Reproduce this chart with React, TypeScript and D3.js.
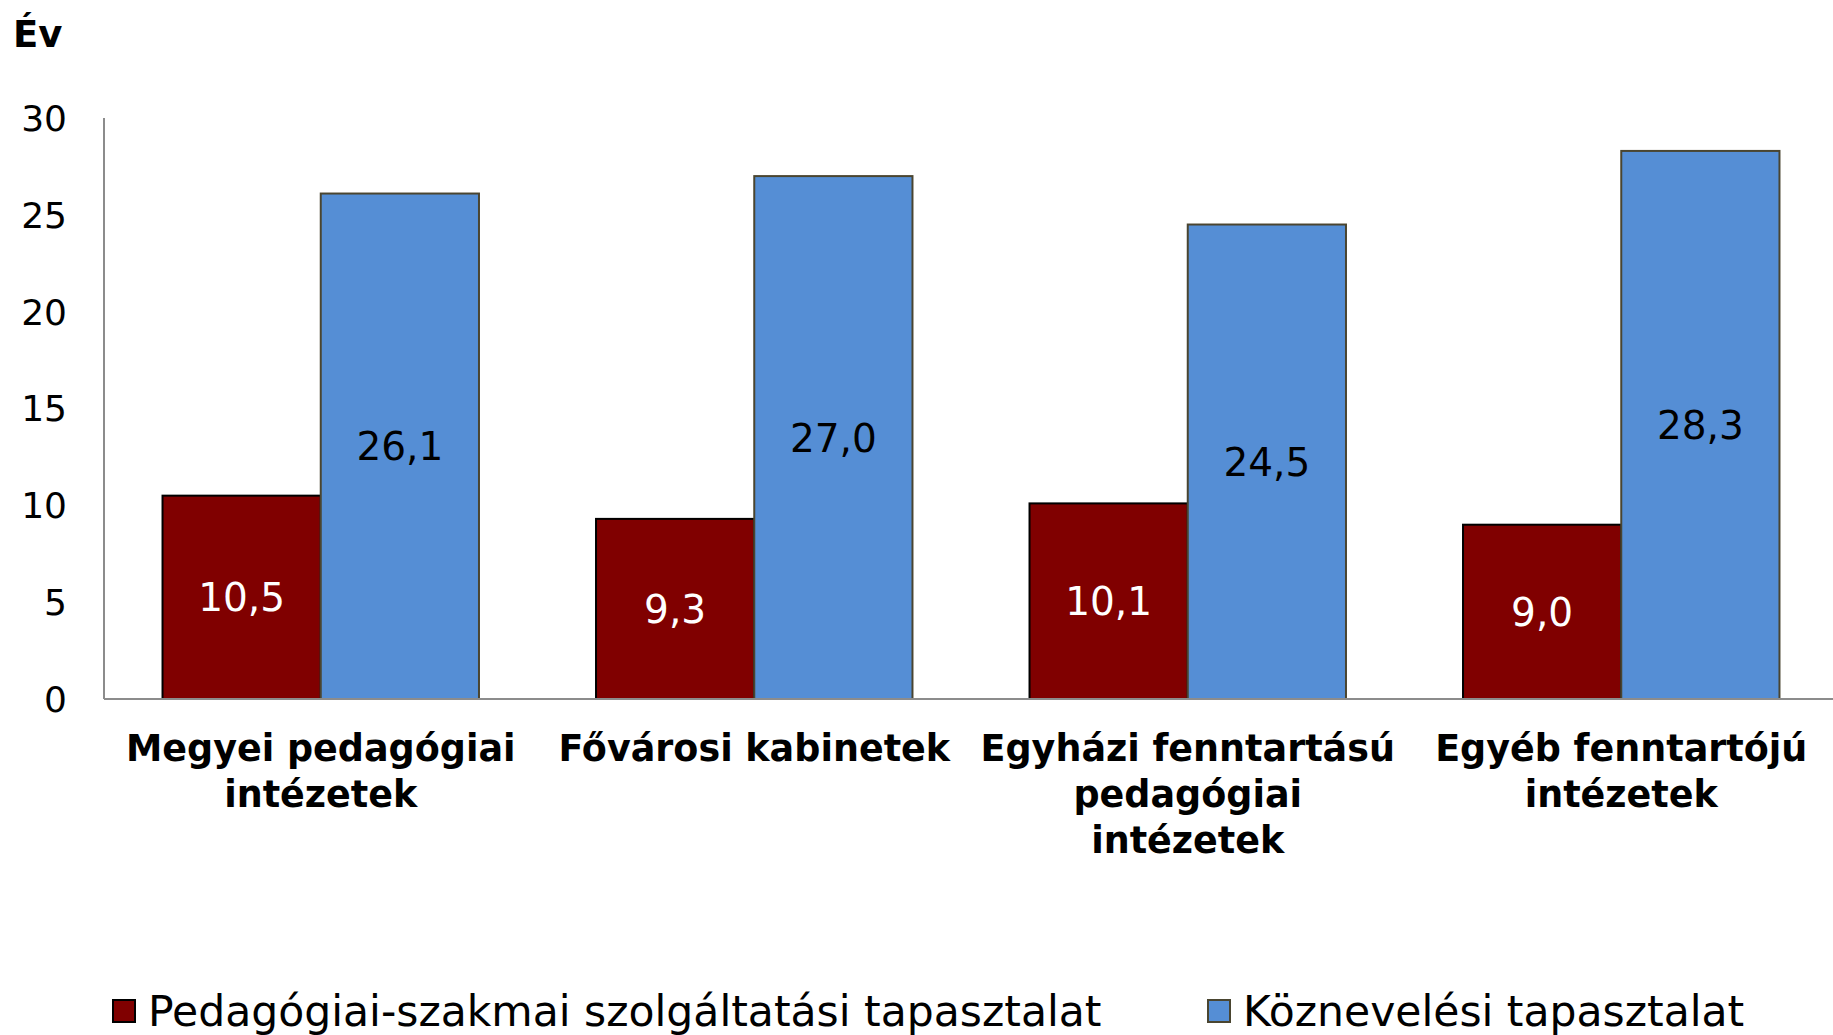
import React, { useRef, useEffect } from 'react';
import * as d3 from 'd3';

// category labels, already split into lines as in the original
const categories = [
  ['Megyei pedagógiai', 'intézetek'],
  ['Fővárosi kabinetek'],
  ['Egyházi fenntartású', 'pedagógiai', 'intézetek'],
  ['Egyéb fenntartójú', 'intézetek'],
];
const seriesNames = ['Pedagógiai-szakmai szolgáltatási tapasztalat', 'Köznevelési tapasztalat'];
const szakmai = [10.5, 9.3, 10.1, 9.0];
const koznevelesi = [26.1, 27.0, 24.5, 28.3];
const yTicks = [0, 5, 10, 15, 20, 25, 30];

const W = 1833;
const H = 1035;
const FONT = '"DejaVu Sans", Verdana, sans-serif';

const App = () => {
  const svgRef = useRef<SVGSVGElement>(null);

  useEffect(() => {
    const svg = d3.select(svgRef.current);
    svg.selectAll('*').remove();

    const left = 104, right = W, top = 118, bottom = 699;

    const x0 = d3.scaleBand<number>()
      .domain(d3.range(categories.length))
      .range([left, right + 5])
      .paddingInner(0.27)
      .paddingOuter(0.135);
    const x1 = d3.scaleBand<number>()
      .domain([0, 1])
      .range([0, x0.bandwidth()]);
    const y = d3.scaleLinear().domain([0, 30]).range([bottom, top]);

    const colors = ['#800000', '#558ed5'];
    const strokes = ['#000000', '#4a4530'];
    const labelColors = ['#ffffff', '#000000'];
    const series = [szakmai, koznevelesi];

    // y tick labels
    svg.append('g')
      .selectAll('text')
      .data(yTicks)
      .enter()
      .append('text')
      .attr('x', 67)
      .attr('y', d => y(d))
      .attr('dy', '0.36em')
      .attr('text-anchor', 'end')
      .style('font-family', FONT)
      .style('font-size', '36px')
      .text(d => d);

    // bars
    series.forEach((vals, s) => {
      const g = svg.append('g');
      g.selectAll('rect')
        .data(vals)
        .enter()
        .append('rect')
        .attr('x', (d, i) => x0(i)! + x1(s)!)
        .attr('y', d => y(d))
        .attr('width', x1.bandwidth())
        .attr('height', d => y(0) - y(d))
        .attr('fill', colors[s])
        .attr('stroke', strokes[s])
        .attr('stroke-width', 2);

      g.selectAll('text')
        .data(vals)
        .enter()
        .append('text')
        .attr('x', (d, i) => x0(i)! + x1(s)! + x1.bandwidth() / 2)
        .attr('y', d => (y(d) + y(0)) / 2)
        .attr('dy', '0.36em')
        .attr('text-anchor', 'middle')
        .attr('fill', labelColors[s])
        .style('font-family', FONT)
        .style('font-size', '39px')
        .text(d => d3.format('.1f')(d).replace('.', ','));
    });

    // axes lines
    svg.append('line')
      .attr('x1', left).attr('x2', left)
      .attr('y1', top).attr('y2', bottom)
      .attr('stroke', '#8c8c8c').attr('stroke-width', 2);
    svg.append('line')
      .attr('x1', left).attr('x2', right)
      .attr('y1', bottom).attr('y2', bottom)
      .attr('stroke', '#8c8c8c').attr('stroke-width', 2);

    // category labels
    categories.forEach((lines, i) => {
      const t = svg.append('text')
        .attr('x', x0(i)! + x0.bandwidth() / 2)
        .attr('y', 761)
        .attr('text-anchor', 'middle')
        .style('font-family', FONT)
        .style('font-size', '36.5px')
        .style('font-weight', 'bold');
      lines.forEach((line, j) => {
        t.append('tspan')
          .attr('x', x0(i)! + x0.bandwidth() / 2)
          .attr('dy', j === 0 ? 0 : 46)
          .text(line);
      });
    });

    // unit label
    svg.append('text')
      .attr('x', 13)
      .attr('y', 47)
      .style('font-family', FONT)
      .style('font-size', '37px')
      .style('font-weight', 'bold')
      .text('Év');

    // legend
    const legendX = [113, 1208];
    seriesNames.forEach((name, s) => {
      svg.append('rect')
        .attr('x', legendX[s])
        .attr('y', 1000)
        .attr('width', 22)
        .attr('height', 22)
        .attr('fill', colors[s])
        .attr('stroke', strokes[s])
        .attr('stroke-width', 2);
      svg.append('text')
        .attr('x', legendX[s] + 35)
        .attr('y', 1026)
        .style('font-family', FONT)
        .style('font-size', '42.5px')
        .text(name);
    });
  }, []);

  return (
    <svg
      ref={svgRef}
      width={W}
      height={H}
      style={{ position: 'absolute', left: 0, top: 0, background: '#fff' }}
    />
  );
};

export default App;
